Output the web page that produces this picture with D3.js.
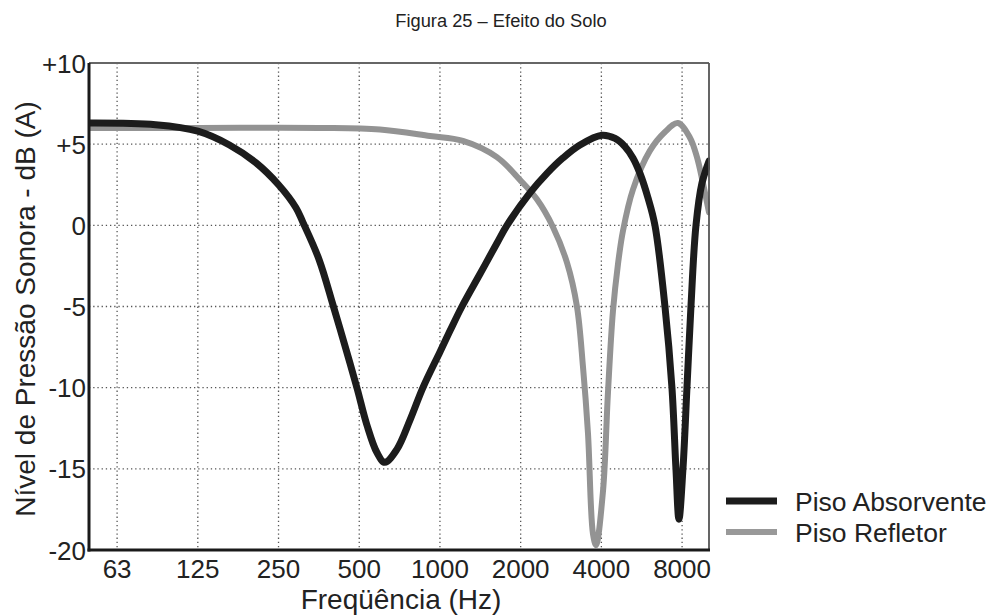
<!DOCTYPE html>
<html>
<head>
<meta charset="utf-8">
<script src="https://cdn.jsdelivr.net/npm/d3@7"></script>
<style>
html,body{margin:0;padding:0;background:#fff;}
svg{display:block;font-family:"Liberation Sans",Arial,Helvetica,sans-serif;}
</style>
</head>
<body>
<svg id="chart" width="1002" height="615"></svg>
<script>
// ---- data ----
const titleText = "Figura 25 \u2013 Efeito do Solo";
const xAxisTitle = "Freq\u00fc\u00eancia (Hz)";
const yAxisTitle = "N\u00edvel de Press\u00e3o Sonora - dB (A)";
const tickFreqs = [62.5, 125, 250, 500, 1000, 2000, 4000, 8000];
const tickLabels = ["63", "125", "250", "500", "1000", "2000", "4000", "8000"];
const yTicks = [-20, -15, -10, -5, 0, 5, 10];
const yTickLabels = ["-20", "-15", "-10", "-5", "0", "+5", "+10"];
const seriesNames = ["Piso Absorvente", "Piso Refletor"];

const absorventeFreq = [49, 87, 125, 164, 206, 250, 290, 308, 354, 399, 442, 490, 534, 582, 623, 691, 773, 864, 1000, 1090, 1208, 1410, 1631, 1778, 2166, 2507, 2876, 3328, 4019, 4500, 4898, 5245, 5572, 5967, 6337, 6906, 7333, 7589, 7787, 8060, 8342, 8633, 9013, 9489, 10080];
const absorventeDb   = [6.3, 6.2, 5.8, 4.95, 3.85, 2.5, 1.1, 0.2, -2.1, -4.9, -7.4, -10.0, -12.3, -14.0, -14.6, -13.8, -12.0, -10.0, -7.8, -6.5, -5.0, -3.0, -1.1, 0.0, 2.0, 3.2, 4.15, 4.95, 5.55, 5.35, 4.85, 4.15, 3.2, 1.7, 0.0, -5.0, -10.0, -15.0, -18.1, -15.0, -10.0, -5.0, 0.0, 2.6, 3.95];

const refletorFreq = [49, 127, 354, 597, 918, 1218, 1631, 1988, 2300, 2639, 2977, 3243, 3415, 3565, 3721, 3819, 4055, 4233, 4418, 4612, 4814, 5245, 6071, 6906, 7720, 8560, 9090, 9570, 10080];
const refletorDb   = [6.0, 6.0, 6.0, 5.9, 5.5, 5.2, 4.2, 2.8, 1.6, -0.1, -2.3, -5.0, -8.7, -12.8, -19.0, -19.7, -16.4, -10.3, -5.3, -2.4, -0.35, 2.2, 4.6, 5.75, 6.3, 5.4, 4.2, 2.6, 0.8];

// ---- layout ----
const svg = d3.select("#chart");
const L = 89, R = 709, T = 63, B = 550;

const x = d3.scaleLog().base(2).domain([49.1, 10080]).range([L, R]);
const y = d3.scaleLinear().domain([-20, 10]).range([B, T]);

// title
svg.append("text").attr("x", 501).attr("y", 27).attr("text-anchor", "middle")
  .attr("font-size", 18.3).attr("fill", "#222").text(titleText);

// grid
const grid = svg.append("g");
grid.selectAll("line.v").data(tickFreqs).enter().append("line")
  .attr("x1", d => x(d)).attr("x2", d => x(d)).attr("y1", T).attr("y2", B)
  .attr("stroke", "#555").attr("stroke-width", 1.3).attr("stroke-dasharray", "1.3,2.9");
grid.selectAll("line.h").data(yTicks.filter(d => d > -20 && d < 10)).enter().append("line")
  .attr("x1", L).attr("x2", R).attr("y1", d => y(d)).attr("y2", d => y(d))
  .attr("stroke", "#555").attr("stroke-width", 1.3).attr("stroke-dasharray", "1.3,2.9");

// clip
svg.append("clipPath").attr("id", "clip").append("rect")
  .attr("x", L).attr("y", T - 5).attr("width", R - L + 1).attr("height", B - T + 5);

const line = d3.line().x(d => x(d[0])).y(d => y(d[1])).curve(d3.curveCatmullRom.alpha(0.5));
const plot = svg.append("g").attr("clip-path", "url(#clip)");
plot.append("path").datum(refletorFreq.map((f, i) => [f, refletorDb[i]]))
  .attr("d", line).attr("fill", "none").attr("stroke", "#939393").attr("stroke-width", 6)
  .attr("stroke-linejoin", "round").attr("stroke-linecap", "round");
plot.append("path").datum(absorventeFreq.map((f, i) => [f, absorventeDb[i]]))
  .attr("d", line).attr("fill", "none").attr("stroke", "#1c1c1c").attr("stroke-width", 7)
  .attr("stroke-linejoin", "round").attr("stroke-linecap", "round");

// frame
svg.append("line").attr("x1", L).attr("x2", R).attr("y1", T).attr("y2", T)
  .attr("stroke", "#666").attr("stroke-width", 1.8);
svg.append("line").attr("x1", R).attr("x2", R).attr("y1", T).attr("y2", B)
  .attr("stroke", "#555").attr("stroke-width", 1.8);
svg.append("line").attr("x1", L).attr("x2", L).attr("y1", T).attr("y2", B + 1.5)
  .attr("stroke", "#1a1a1a").attr("stroke-width", 3);
svg.append("line").attr("x1", L - 1.5).attr("x2", R + 1).attr("y1", B).attr("y2", B)
  .attr("stroke", "#1a1a1a").attr("stroke-width", 3);

// tick labels
svg.append("g").selectAll("text").data(tickFreqs).enter().append("text")
  .attr("x", d => x(d)).attr("y", 578).attr("text-anchor", "middle")
  .attr("font-size", 26).attr("fill", "#222").text((d, i) => tickLabels[i]);
svg.append("g").selectAll("text").data(yTicks).enter().append("text")
  .attr("x", 86).attr("y", d => y(d) + 9.5).attr("text-anchor", "end")
  .attr("font-size", 26).attr("fill", "#222").text((d, i) => yTickLabels[i]);

// axis titles
svg.append("text").attr("x", 401).attr("y", 609).attr("text-anchor", "middle")
  .attr("font-size", 28).attr("fill", "#222").text(xAxisTitle);
svg.append("text").attr("transform", "translate(35,309) rotate(-90)").attr("text-anchor", "middle")
  .attr("font-size", 28).attr("fill", "#222").text(yAxisTitle);

// legend
const legendColors = ["#1c1c1c", "#999"];
const legendWidths = [7, 6];
const legendY = [501, 532];
const lg = svg.append("g");
seriesNames.forEach((name, i) => {
  lg.append("line").attr("x1", 726).attr("x2", 777).attr("y1", legendY[i]).attr("y2", legendY[i])
    .attr("stroke", legendColors[i]).attr("stroke-width", legendWidths[i]);
  lg.append("text").attr("x", 795).attr("y", legendY[i] + 9.5)
    .attr("font-size", 26.5).attr("fill", "#222").text(name);
});
</script>
</body>
</html>
